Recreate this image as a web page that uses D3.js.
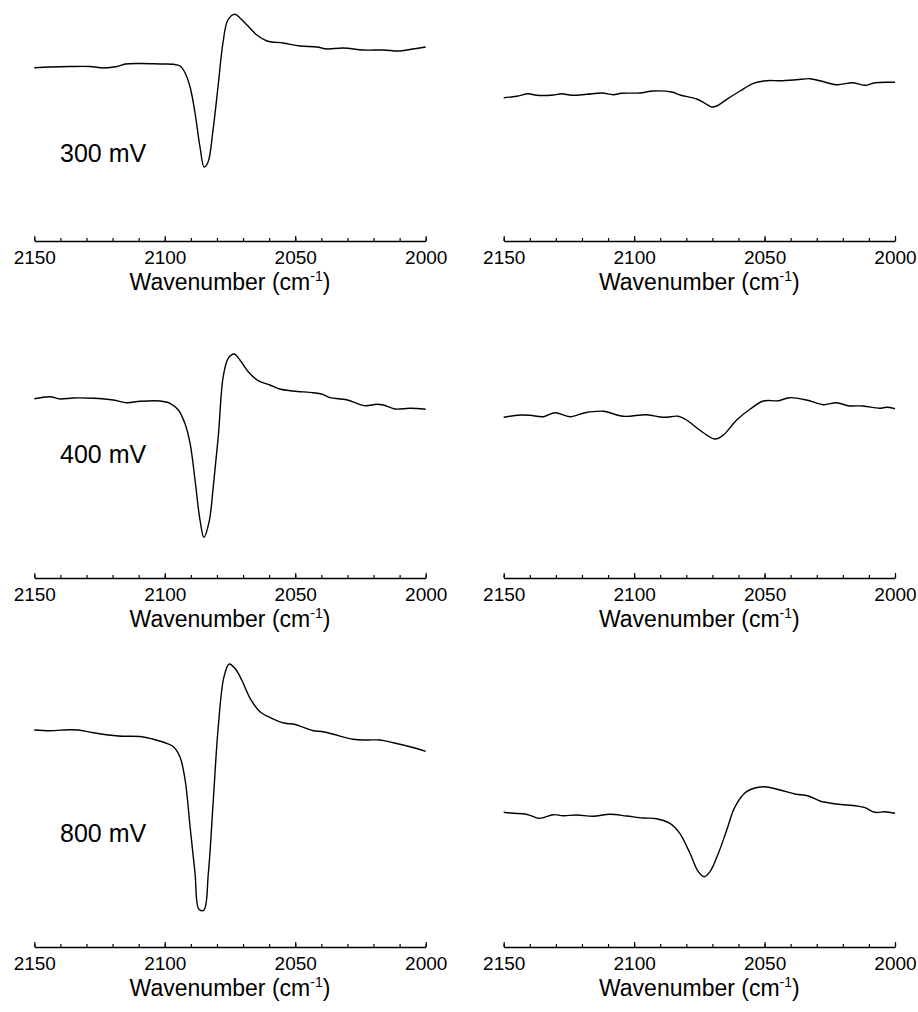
<!DOCTYPE html>
<html>
<head>
<meta charset="utf-8">
<script src="https://cdn.jsdelivr.net/npm/d3@7"></script>
<style>
  body { margin: 0; background: #fff; }
  text { font-family: "Liberation Sans", Arial, sans-serif; fill: #000; }
</style>
</head>
<body>
<svg id="chart"></svg>
<script>
// panel labels and axis ticks
var potentials = ["300 mV", "400 mV", "800 mV"];
var majorTicks = [2150, 2100, 2050, 2000];
var minorTicks = [2150, 2140, 2130, 2120, 2110, 2100, 2090, 2080, 2070, 2060, 2050, 2040, 2030, 2020, 2010, 2000];

// 300 mV, left panel
var wn300a = [2150, 2144, 2136.3, 2128.7, 2123.3, 2118.3, 2115.1, 2109.3, 2101.7, 2096.8, 2094.1, 2092.2, 2090.3, 2088.4, 2086.5, 2084.9, 2083.4, 2081.5, 2079.6, 2077.7, 2075.8, 2073.1, 2071.2, 2068.5, 2064.7, 2060.8, 2054.7, 2048.2, 2041.7, 2037.8, 2031.7, 2024.0, 2016.4, 2009.9, 2004.9, 2000];
var int300a = [-0.007, 0, 0.005, 0.005, -0.01, 0.005, 0.03, 0.035, 0.03, 0.027, 0.01, -0.06, -0.2, -0.46, -0.8, -1.0, -0.95, -0.63, -0.2, 0.24, 0.47, 0.527, 0.49, 0.42, 0.32, 0.26, 0.24, 0.21, 0.2, 0.18, 0.19, 0.17, 0.17, 0.16, 0.18, 0.2];

// 300 mV, right panel
var wn300b = [2150, 2145.0, 2140.6, 2137.4, 2131.0, 2127.8, 2123.9, 2118.2, 2112.4, 2108.0, 2104.8, 2097.8, 2092.7, 2085.6, 2082.4, 2076.0, 2072.8, 2070.3, 2068.3, 2064.5, 2059.4, 2054.3, 2049.2, 2044.1, 2037.7, 2032.6, 2028.8, 2022.4, 2016.0, 2011.5, 2007.7, 2000];
var int300b = [-0.307, -0.293, -0.267, -0.283, -0.28, -0.267, -0.283, -0.273, -0.26, -0.277, -0.263, -0.26, -0.24, -0.25, -0.28, -0.32, -0.363, -0.4, -0.39, -0.323, -0.24, -0.163, -0.137, -0.137, -0.127, -0.117, -0.137, -0.177, -0.157, -0.183, -0.157, -0.153];

// 400 mV, left panel
var wn400a = [2150, 2144.0, 2140.1, 2135.1, 2127.4, 2119.7, 2114.6, 2109.5, 2101.8, 2098.0, 2094.8, 2092.3, 2090.3, 2088.4, 2086.5, 2085.0, 2083.0, 2081.4, 2079.5, 2077.6, 2075.7, 2073.4, 2071.2, 2068.0, 2064.2, 2059.7, 2055.9, 2050.8, 2043.1, 2039.9, 2036.7, 2030.3, 2023.3, 2018.8, 2016.3, 2011.8, 2006.0, 2000];
var int400a = [0.003, 0.023, 0, 0.01, 0.007, -0.01, -0.037, -0.023, -0.02, -0.043, -0.11, -0.243, -0.443, -0.81, -1.21, -1.383, -1.227, -0.877, -0.377, 0.223, 0.407, 0.45, 0.39, 0.273, 0.183, 0.14, 0.1, 0.08, 0.063, 0.05, 0.013, -0.007, -0.067, -0.053, -0.06, -0.1, -0.093, -0.103];

// 400 mV, right panel
var wn400b = [2150, 2143.7, 2139.9, 2134.8, 2130.3, 2124.6, 2118.8, 2111.8, 2104.2, 2095.2, 2088.8, 2083.1, 2079.9, 2075.4, 2069.0, 2065.8, 2060.7, 2055.6, 2050.5, 2044.7, 2040.5, 2033.9, 2027.5, 2022.4, 2017.9, 2012.2, 2005.9, 2003.2, 2000];
var int400b = [-0.183, -0.16, -0.163, -0.177, -0.137, -0.177, -0.137, -0.123, -0.173, -0.157, -0.183, -0.173, -0.21, -0.3, -0.4, -0.36, -0.21, -0.103, -0.02, -0.017, 0.013, -0.01, -0.057, -0.037, -0.067, -0.07, -0.093, -0.083, -0.097];

// 800 mV, left panel
var wn800a = [2150, 2144.0, 2136.3, 2133.1, 2127.4, 2117.8, 2108.8, 2104.4, 2099.3, 2096.7, 2094.2, 2092.2, 2090.3, 2088.4, 2086.9, 2085.0, 2083.3, 2081.4, 2079.5, 2077.3, 2075.3, 2073.1, 2070.5, 2067.3, 2063.5, 2059.0, 2053.9, 2050.8, 2046.9, 2043.1, 2039.3, 2035.4, 2027.8, 2022.6, 2017.5, 2012.4, 2006.0, 2000];
var int800a = [0, -0.007, 0.003, 0, -0.027, -0.06, -0.067, -0.093, -0.133, -0.167, -0.267, -0.5, -0.967, -1.433, -1.793, -1.8, -1.433, -0.7, 0.033, 0.533, 0.66, 0.617, 0.5, 0.317, 0.183, 0.117, 0.067, 0.06, 0.027, -0.007, -0.017, -0.043, -0.093, -0.1, -0.1, -0.127, -0.167, -0.213];

// 800 mV, right panel
var wn800b = [2150, 2146.3, 2142.5, 2139.9, 2136.7, 2134.8, 2131.0, 2127.2, 2122.0, 2115.7, 2109.3, 2102.9, 2096.5, 2091.4, 2086.3, 2082.5, 2078.6, 2075.4, 2073.2, 2070.9, 2067.7, 2064.5, 2061.3, 2056.9, 2050.5, 2044.1, 2038.3, 2033.2, 2028.8, 2022.4, 2014.7, 2011.5, 2007.7, 2003.9, 2000];
var int800b = [-0.823, -0.833, -0.837, -0.853, -0.883, -0.877, -0.847, -0.857, -0.85, -0.863, -0.843, -0.86, -0.88, -0.887, -0.933, -1.033, -1.233, -1.417, -1.467, -1.417, -1.233, -1.0, -0.767, -0.617, -0.567, -0.6, -0.64, -0.66, -0.71, -0.74, -0.76, -0.777, -0.823, -0.817, -0.833];

var panels = [
  {row: 0, col: 0, wn: wn300a, val: int300a},
  {row: 0, col: 1, wn: wn300b, val: int300b},
  {row: 1, col: 0, wn: wn400a, val: int400a},
  {row: 1, col: 1, wn: wn400b, val: int400b},
  {row: 2, col: 0, wn: wn800a, val: int800a},
  {row: 2, col: 1, wn: wn800b, val: int800b}
];

// layout
var width = 918, height = 1012;
var colRange = [[34.3, 425.7], [503.7, 895]];
var rowAxisY = [241, 578, 947];
var rowBaseY = [67, 399, 730];   // where intensity 0 sits
var pxPerUnit = 100;
var labelY = [161.7, 463.3, 841.7];

var svg = d3.select("#chart")
    .attr("width", width)
    .attr("height", height);

svg.append("rect")
    .attr("width", width)
    .attr("height", height)
    .attr("fill", "#fff");

panels.forEach(function (p) {
  var x = d3.scaleLinear()
      .domain([2150, 2000])
      .range(colRange[p.col]);
  var y = d3.scaleLinear()
      .domain([0, 1])
      .range([rowBaseY[p.row], rowBaseY[p.row] - pxPerUnit]);
  var axisY = rowAxisY[p.row];

  // minor ticks
  svg.append("g")
      .attr("transform", "translate(0," + axisY + ")")
      .call(d3.axisBottom(x).tickValues(minorTicks).tickSize(-3).tickSizeOuter(0).tickFormat(""))
      .call(function (g) { g.select(".domain").remove(); })
      .selectAll("line").attr("stroke-width", 1.2);

  // major ticks + labels
  var ax = svg.append("g")
      .attr("transform", "translate(0," + axisY + ")")
      .call(d3.axisBottom(x).tickValues(majorTicks).tickSize(-5).tickSizeOuter(0).tickPadding(10).tickFormat(d3.format("d")));
  ax.select(".domain").attr("stroke-width", 1.3);
  ax.selectAll("line").attr("stroke-width", 1.2);
  ax.selectAll("text")
      .attr("font-family", "'Liberation Sans', Arial, sans-serif")
      .attr("font-size", "19px");

  // axis title
  var title = svg.append("text")
      .attr("x", (colRange[p.col][0] + colRange[p.col][1]) / 2)
      .attr("y", axisY + 49)
      .attr("text-anchor", "middle")
      .style("font-size", "23px");
  title.append("tspan").text("Wavenumber (cm");
  title.append("tspan").attr("dy", -9).style("font-size", "14px").text("-1");
  title.append("tspan").attr("dy", 9).text(")");

  var line = d3.line()
      .curve(d3.curveCatmullRom.alpha(0.5))
      .x(function (d) { return x(d[0]); })
      .y(function (d) { return y(d[1]); });

  svg.append("path")
      .datum(d3.zip(p.wn, p.val))
      .attr("fill", "none")
      .attr("stroke", "#000")
      .attr("stroke-width", 1.4)
      .attr("stroke-linejoin", "round")
      .attr("d", line);

  if (p.col === 0) {
    svg.append("text")
        .attr("x", 60)
        .attr("y", labelY[p.row])
        .style("font-size", "25px")
        .text(potentials[p.row]);
  }
});
</script>
</body>
</html>
